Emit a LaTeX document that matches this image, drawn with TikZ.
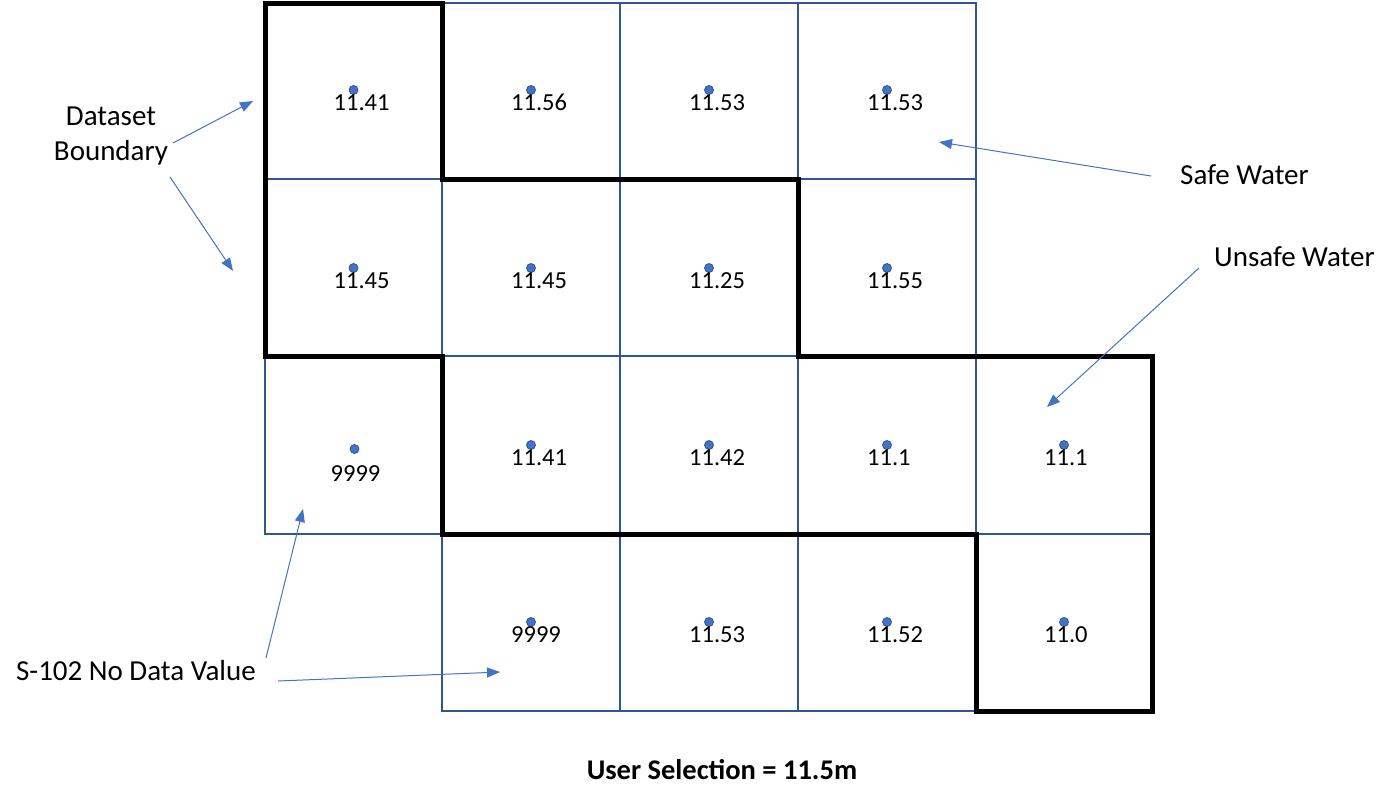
\documentclass[tikz,border=0pt]{standalone}
\usepackage{fontspec}
\setmainfont{Carlito}
\usetikzlibrary{arrows.meta}
\definecolor{gridblue}{HTML}{2F5597}
\definecolor{arrowblue}{HTML}{4472C4}
\tikzset{
  gridline/.style={draw=gridblue, line width=1.6pt},
  boundary/.style={draw=black, line width=5pt, line join=miter},
  pt/.style={circle, fill=arrowblue, draw=gridblue, line width=0.8pt, inner sep=0pt, minimum size=9pt},
  valfont/.style={font=\fontsize{24.5}{29}\selectfont},
  val/.style={anchor=base west, inner sep=0pt, valfont},
  lblfont/.style={font=\fontsize{29}{35}\selectfont},
  lbl/.style={anchor=base west, inner sep=0pt, lblfont},
  pointer/.style={draw=arrowblue, line width=1pt, -{Triangle[length=13pt,width=10pt]}},
}
\begin{document}
\begin{tikzpicture}[x=1pt,y=-1pt]
\useasboundingbox (0,0) rectangle (1394,809);
% thin grid
\foreach \xa/\xb in {265/442,442/620,620/798,798/976}{
  \draw[gridline] (\xa,3) rectangle (\xb,179);
  \draw[gridline] (\xa,179) rectangle (\xb,356);
}
\foreach \xa/\xb in {265/442,442/620,620/798,798/976,976/1152}{
  \draw[gridline] (\xa,356) rectangle (\xb,534);
}
\foreach \xa/\xb in {442/620,620/798,798/976,976/1152}{
  \draw[gridline] (\xa,534) rectangle (\xb,711);
}
% dataset boundary (thick)
\draw[boundary] (265,3) -- (442,3) -- (442,179) -- (798,179) -- (798,356) -- (1152,356)
  -- (1152,711) -- (976,711) -- (976,534) -- (442,534) -- (442,356) -- (265,356) -- cycle;
% points and values
\foreach \n/\cx/\cy/\v in {
  a/353.5/90/11.41, b/531/90/11.56, c/709/90/11.53, d/887/90/11.53,
  e/353.5/268/11.45, f/531/268/11.45, g/709/268/11.25, h/887/268/11.55,
  j/531/445/11.41, k/709/445/11.42, l/887/445/11.1, m/1064/445/11.1,
  n/531/622/9999, o/709/622/11.53, p/887/622/11.52, q/1064/622/11.0}{
  \node[pt] (dot\n) at (\cx,\cy) {};
  \node[val] (val\n) at (\cx-20,\cy+20.5) {\v};
}
\node[pt] (doti) at (354.5,449) {};
\node[anchor=base, inner sep=0pt, valfont] (vali) at (355.5,481) {9999};
% labels
\node[anchor=base, inner sep=0pt, lblfont] (dsA) at (111,125) {Dataset};
\node[anchor=base, inner sep=0pt, lblfont] (dsB) at (111,160) {Boundary};
\node[lbl] (safe) at (1180,184) {Safe Water};
\node[lbl] (unsafe) at (1214,266) {Unsafe Water};
\node[lbl] (nodata) at (16,680) {S-102 No Data Value};
\node[anchor=base, inner sep=0pt, font=\bfseries\fontsize{28.5}{33}\selectfont] (sel) at (722,779) {User Selection = 11.5m};
% arrow coordinates
\coordinate (t1) at (173,143); \coordinate (h1) at (253,101);
\coordinate (t2) at (170,177); \coordinate (h2) at (233,271);
\coordinate (t3) at (1151,176); \coordinate (h3) at (939,142);
\coordinate (t4) at (1199,268); \coordinate (h4) at (1047,407);
\coordinate (t5) at (266,658); \coordinate (h5) at (303,509);
\coordinate (t6) at (278,681); \coordinate (h6) at (500,672);
\draw[pointer] (t1) -- (h1);
\draw[pointer] (t2) -- (h2);
\draw[pointer] (t3) -- (h3);
\draw[pointer] (t4) -- (h4);
\draw[pointer] (t5) -- (h5);
\draw[pointer] (t6) -- (h6);
\end{tikzpicture}
\end{document}
